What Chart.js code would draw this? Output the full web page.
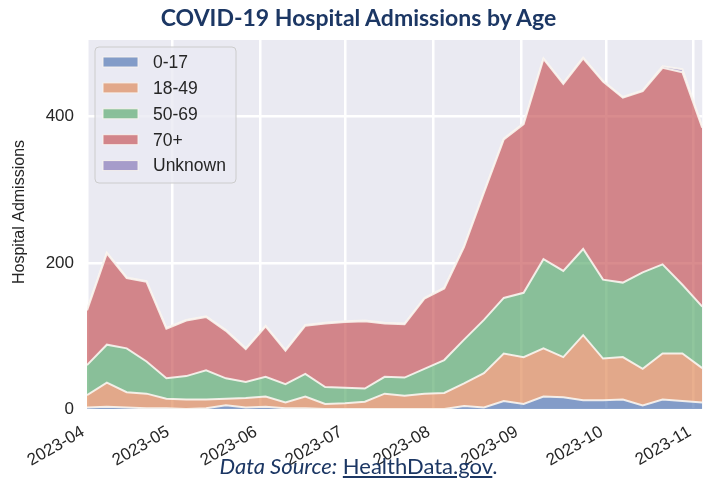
<!DOCTYPE html>
<html>
<head>
<meta charset="utf-8">
<script src="https://cdn.jsdelivr.net/npm/chart.js@4"></script>
<style>
  html, body { margin: 0; padding: 0; background: #ffffff; }
  #wrap { position: relative; width: 717px; height: 489px; }
  #title {
    position: absolute; left: 0; top: 3px; width: 717px; text-align: center;
    font: bold 23px Lato, sans-serif; color: #1c3764;
  }
  #source {
    position: absolute; left: 0; top: 452px; width: 717px; text-align: center;
    font: 22px Lato, sans-serif; color: #1c3764;
  }
  #source i { font-style: italic; }
  #source a { color: #1c3764; text-decoration: underline; }
  canvas { position: absolute; left: 0; top: 0; }
</style>
</head>
<body>
<div id="wrap">
  <canvas id="chart" width="717" height="489"></canvas>
  <div id="title">COVID-19 Hospital Admissions by Age</div>
  <div id="source"><i>Data Source:</i> <a>HealthData.gov</a>.</div>
</div>
<script>
// weekly report dates
const weeks = [
  '2023-04-01', '2023-04-08', '2023-04-15', '2023-04-22', '2023-04-29',
  '2023-05-06', '2023-05-13', '2023-05-20', '2023-05-27',
  '2023-06-03', '2023-06-10', '2023-06-17', '2023-06-24',
  '2023-07-01', '2023-07-08', '2023-07-15', '2023-07-22', '2023-07-29',
  '2023-08-05', '2023-08-12', '2023-08-19', '2023-08-26',
  '2023-09-02', '2023-09-09', '2023-09-16', '2023-09-23', '2023-09-30',
  '2023-10-07', '2023-10-14', '2023-10-21', '2023-10-28',
  '2023-11-04'
];

// admissions per age group
const age0to17 = [2, 3, 2, 1, 1, 0, 1, 5, 2, 3, 1, 1, 0, 0, 0, 0, 0, 0, 0, 4, 2, 11, 7, 17, 16, 12, 12, 13, 5, 13, 11, 9];
const age18to49 = [17, 33, 21, 20, 13, 13, 12, 9, 13, 14, 8, 16, 7, 8, 10, 21, 18, 21, 22, 31, 47, 65, 64, 66, 55, 89, 57, 58, 50, 63, 65, 47];
const age50to69 = [41, 52, 60, 44, 28, 32, 40, 28, 22, 27, 25, 31, 23, 21, 18, 23, 25, 34, 45, 60, 73, 76, 88, 122, 118, 118, 108, 102, 132, 122, 94, 84];
const age70plus = [75, 125, 96, 109, 68, 76, 73, 65, 45, 69, 46, 66, 87, 90, 92, 73, 73, 96, 98, 127, 174, 217, 231, 274, 256, 261, 271, 253, 248, 269, 291, 245];
const ageUnknown = [1, 1, 1, 1, 1, 1, 1, 1, 1, 1, 1, 1, 1, 1, 1, 1, 1, 1, 1, 1, 1, 1, 1, 1, 1, 1, 1, 1, 1, 2, 4, 1];

const groupLabels = ['0-17', '18-49', '50-69', '70+', 'Unknown'];
const groupColors = ['76, 114, 176', '221, 132, 82', '85, 168, 104', '196, 78, 82', '129, 114, 179'];

const monthTicks = ['2023-04-01', '2023-05-01', '2023-06-01', '2023-07-01', '2023-08-01', '2023-09-01', '2023-10-01', '2023-11-01'];
const monthLabels = ['2023-04', '2023-05', '2023-06', '2023-07', '2023-08', '2023-09', '2023-10', '2023-11'];
const yTicks = [0, 200, 400];

const dayOf = d => (Date.parse(d) - Date.parse(weeks[0])) / 86400000;

const series = [age0to17, age18to49, age50to69, age70plus, ageUnknown];

const datasets = series.map((vals, i) => ({
  label: groupLabels[i],
  data: vals.map((v, j) => ({ x: dayOf(weeks[j]), y: v })),
  backgroundColor: `rgba(${groupColors[i]}, 0.65)`,
  borderColor: 'rgba(250, 245, 240, 0.9)',
  borderWidth: 2,
  fill: i === 0 ? 'origin' : '-1',
  pointRadius: 0,
  tension: 0
}));

// grey plot background
const plotBg = {
  id: 'plotBg',
  beforeDraw(chart) {
    const { ctx, chartArea: a } = chart;
    ctx.save();
    ctx.fillStyle = '#eaeaf2';
    ctx.fillRect(a.left, a.top, a.right - a.left, a.bottom - a.top);
    ctx.restore();
  }
};

// y axis label, placed a bit above the plot centre like the original
const yLabel = {
  id: 'yLabel',
  afterDraw(chart) {
    const { ctx } = chart;
    ctx.save();
    ctx.translate(20, 212);
    ctx.rotate(-Math.PI / 2);
    ctx.font = '16px "Liberation Sans", Arial, sans-serif';
    ctx.fillStyle = '#262626';
    ctx.textAlign = 'center';
    ctx.textBaseline = 'middle';
    ctx.fillText('Hospital Admissions', 0, 0);
    ctx.restore();
  }
};

// legend box inside the plot, upper left
const boxLegend = {
  id: 'boxLegend',
  afterDatasetsDraw(chart) {
    const { ctx, chartArea: a } = chart;
    const x0 = a.left + 8, y0 = a.top + 7;
    ctx.save();
    ctx.beginPath();
    ctx.roundRect(x0, y0, 141, 136, 4);
    ctx.fillStyle = 'rgba(234, 234, 242, 0.8)';
    ctx.fill();
    ctx.strokeStyle = '#cccccc';
    ctx.lineWidth = 1;
    ctx.stroke();
    ctx.font = '17.5px "Liberation Sans", Arial, sans-serif';
    ctx.textBaseline = 'middle';
    chart.data.datasets.forEach((ds, i) => {
      const cy = y0 + 15 + i * 25.9;
      ctx.fillStyle = ds.backgroundColor;
      ctx.fillRect(x0 + 8, cy - 5, 35, 10);
      ctx.strokeStyle = 'rgba(250, 245, 240, 0.9)';
      ctx.strokeRect(x0 + 8, cy - 5, 35, 10);
      ctx.fillStyle = '#262626';
      ctx.fillText(ds.label, x0 + 58, cy + 1);
    });
    ctx.restore();
  }
};

new Chart(document.getElementById('chart'), {
  type: 'line',
  data: { datasets },
  plugins: [plotBg, boxLegend, yLabel],
  options: {
    responsive: false,
    animation: false,
    layout: { padding: { top: 40, right: 5, left: 0, bottom: 0 } },
    scales: {
      x: {
        type: 'linear',
        min: 0,
        max: dayOf(weeks[weeks.length - 1]),
        afterBuildTicks: scale => { scale.ticks = monthTicks.map(d => ({ value: dayOf(d) })); },
        afterFit: scale => { scale.height = 80; },
        border: { display: false },
        grid: { color: '#ffffff', lineWidth: 2.5, drawTicks: false },
        ticks: {
          autoSkip: false,
          minRotation: 30,
          maxRotation: 30,
          padding: 13,
          labelOffset: -4,
          color: '#262626',
          font: { family: '"Liberation Sans", Arial, sans-serif', size: 17 },
          callback: (v, i) => monthLabels[i]
        }
      },
      y: {
        stacked: true,
        min: 0,
        max: 505,
        afterBuildTicks: scale => { scale.ticks = yTicks.map(v => ({ value: v })); },
        afterFit: scale => { scale.width = 87; },
        border: { display: false },
        grid: { color: '#ffffff', lineWidth: 2.5, drawTicks: false },
        ticks: {
          padding: 13,
          color: '#262626',
          font: { family: '"Liberation Sans", Arial, sans-serif', size: 17 }
        }
      }
    },
    plugins: {
      legend: { display: false },
      tooltip: { enabled: false }
    }
  }
});
</script>
</body>
</html>
